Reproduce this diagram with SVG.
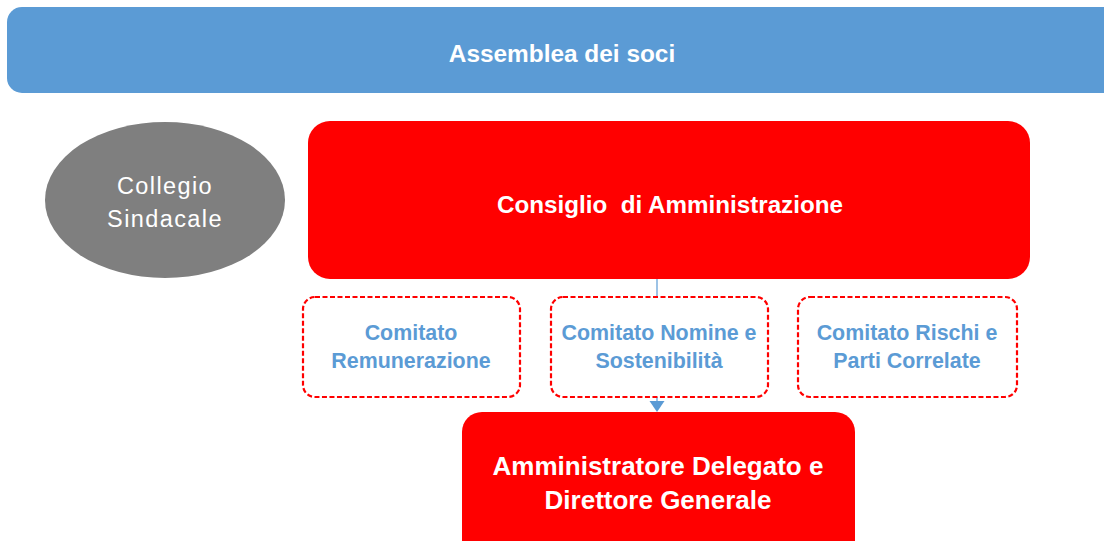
<svg xmlns="http://www.w3.org/2000/svg" width="1104" height="541" viewBox="0 0 1104 541">
<style>
.w{fill:#FFFFFF;font-family:"Liberation Sans",Arial,sans-serif;text-anchor:middle}
.b{font-weight:bold}
.c{fill:#5B9BD5;font-family:"Liberation Sans",Arial,sans-serif;font-weight:bold;font-size:21.4px;text-anchor:middle}
.dash{fill:#FFFFFF;stroke:#FF0000;stroke-width:2.2;stroke-dasharray:5 2.5}
</style>
<rect width="1104" height="541" fill="#FFFFFF"/>
<g id="connectors">
<line x1="657" y1="279" x2="657" y2="404" stroke="#5B9BD5" stroke-width="1.2"/>
<path d="M649.5,401 L664.5,401 L657,412 z" fill="#5B9BD5"/>
</g>
<g id="assemblea">
<rect x="7" y="7" width="1120" height="86" rx="15" fill="#5B9BD5"/>
<text class="w b" x="562" y="62" font-size="24.4">Assemblea dei soci</text>
</g>
<g id="collegio">
<ellipse cx="165" cy="200" rx="120" ry="78" fill="#7F7F7F"/>
<text class="w" x="165" y="194" font-size="23.5" letter-spacing="1.4">Collegio</text>
<text class="w" x="165" y="227" font-size="23.5" letter-spacing="1.4">Sindacale</text>
</g>
<g id="consiglio">
<rect x="308" y="121" width="722" height="158" rx="22" fill="#FF0000"/>
<text class="w b" x="670" y="213" font-size="24.2" xml:space="preserve">Consiglio  di Amministrazione</text>
</g>
<g id="comitato-remunerazione">
<rect class="dash" x="303" y="297" width="217" height="100" rx="12"/>
<text class="c" x="411" y="340">Comitato</text>
<text class="c" x="411" y="368">Remunerazione</text>
</g>
<g id="comitato-nomine">
<rect class="dash" x="551" y="297" width="217" height="100" rx="12"/>
<text class="c" x="659" y="340">Comitato Nomine e</text>
<text class="c" x="659" y="368">Sostenibilità</text>
</g>
<g id="comitato-rischi">
<rect class="dash" x="798" y="297" width="219" height="100" rx="12"/>
<text class="c" x="907" y="340">Comitato Rischi e</text>
<text class="c" x="907" y="368">Parti Correlate</text>
</g>
<g id="amministratore">
<rect x="462" y="412" width="393" height="150" rx="20" fill="#FF0000"/>
<text class="w b" x="658" y="475" font-size="26">Amministratore Delegato e</text>
<text class="w b" x="658" y="509" font-size="26">Direttore Generale</text>
</g>
</svg>
